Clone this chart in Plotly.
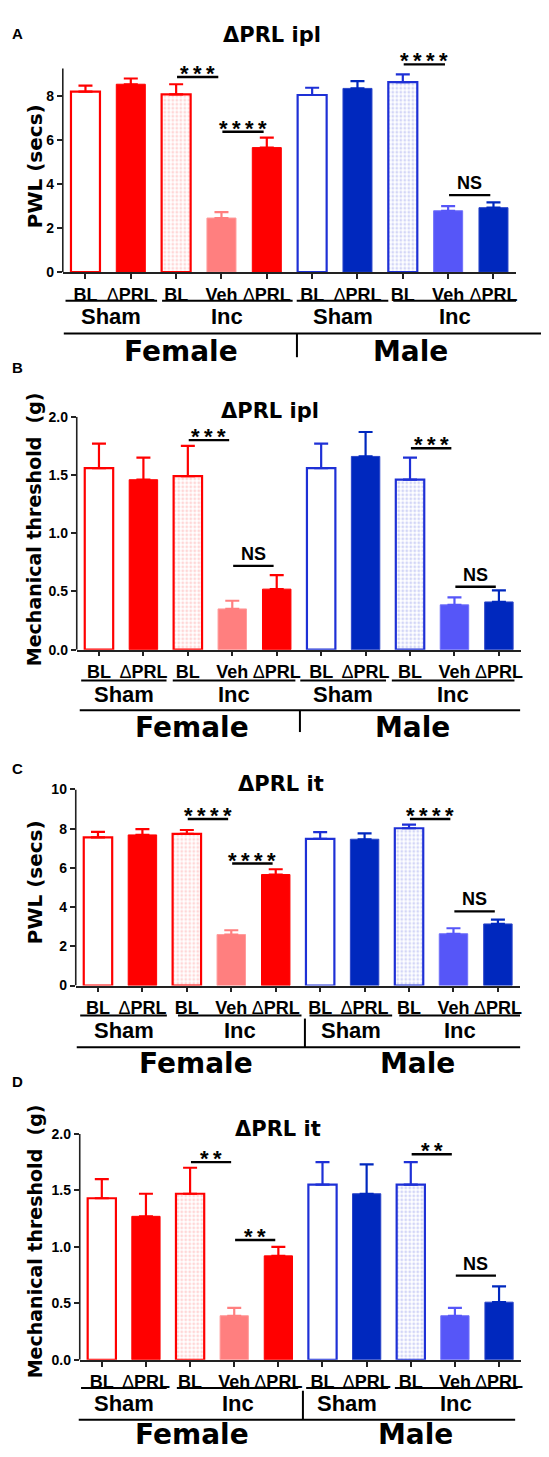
import plotly.graph_objects as go

W, H = 549, 1457
OFF = 8  # page body margin of the rendered html

# ---------------- data ----------------
tick_labels = ["BL", "ΔPRL", "BL", "Veh", "ΔPRL", "BL", "ΔPRL", "BL", "Veh", "ΔPRL"]
surgery_labels = ["Sham", "Inc", "Sham", "Inc"]
sex_labels = ["Female", "Male"]

# Panel A: ΔPRL ipl, PWL (secs)
a_mean = [8.20, 8.54, 8.08, 2.46, 5.66, 8.05, 8.35, 8.64, 2.79, 2.93]
a_sem = [0.28, 0.26, 0.46, 0.27, 0.45, 0.33, 0.33, 0.35, 0.21, 0.24]
a_sig = [(2, 3, 8.87, "***"), (3, 4, 6.38, "****"), (7, 8, 9.44, "****"), (8, 9, 3.50, "NS")]

# Panel B: ΔPRL ipl, Mechanical threshold (g)
b_mean = [1.56, 1.46, 1.49, 0.35, 0.52, 1.56, 1.66, 1.46, 0.385, 0.41]
b_sem = [0.21, 0.19, 0.26, 0.07, 0.12, 0.21, 0.21, 0.19, 0.065, 0.10]
b_sig = [(2, 3, 1.80, "***"), (3, 4, 0.72, "NS"), (7, 8, 1.73, "***"), (8, 9, 0.54, "NS")]

# Panel C: ΔPRL it, PWL (secs)
c_mean = [7.55, 7.68, 7.73, 2.60, 5.66, 7.48, 7.46, 8.02, 2.64, 3.14]
c_sem = [0.28, 0.29, 0.20, 0.22, 0.27, 0.34, 0.30, 0.18, 0.28, 0.22]
c_sig = [(2, 3, 8.49, "****"), (3, 4, 6.22, "****"), (7, 8, 8.49, "****"), (8, 9, 3.78, "NS")]

# Panel D: ΔPRL it, Mechanical threshold (g)
d_mean = [1.43, 1.27, 1.47, 0.39, 0.92, 1.55, 1.47, 1.55, 0.39, 0.51]
d_sem = [0.17, 0.20, 0.23, 0.07, 0.08, 0.20, 0.26, 0.20, 0.07, 0.14]
d_sig = [(2, 3, 1.75, "**"), (3, 4, 1.06, "**"), (7, 8, 1.82, "**"), (8, 9, 0.745, "NS")]

# ---------------- styles ----------------
RED = "#FF0000"
RED_L = "#FF7F7F"
BLUE_OUT = "#1E30D6"
BLUE = "#0028BE"
BLUE_L = "#5656F8"

bar_styles = [
    dict(fill="white", line=RED, lw=2.2, err=RED, dots=None),
    dict(fill=RED, line=RED, lw=1, err=RED, dots=None),
    dict(fill="white", line=RED, lw=2.2, err=RED, dots="#FFB0B0"),
    dict(fill=RED_L, line="#FF9C9C", lw=1, err=RED_L, dots=None),
    dict(fill=RED, line=RED, lw=1, err=RED, dots=None),
    dict(fill="white", line=BLUE_OUT, lw=2.2, err=BLUE_OUT, dots=None),
    dict(fill=BLUE, line="#2A44C8", lw=1, err=BLUE, dots=None),
    dict(fill="white", line=BLUE_OUT, lw=2.2, err=BLUE_OUT, dots="#A8AEF0"),
    dict(fill=BLUE_L, line="#7070FA", lw=1, err=BLUE_L, dots=None),
    dict(fill=BLUE, line="#2A44C8", lw=1, err=BLUE, dots=None),
]

BOLD_SANS = "DejaVu Sans"
ARIAL = "Liberation Sans, Arial"

panels = [
    dict(letter="A", letter_px=(18, 26), title="ΔPRL ipl", title_px=(273, 27),
         ytitle="PWL (secs)", ytitle_px=(35, 160), ytitle_size=20,
         mean=a_mean, sem=a_sem, sig=a_sig,
         x_px=(63, 518), y0_px=267, ppu=22.25, axis_top=9.25, range_top=9.9,
         tickvals=[0, 2, 4, 6, 8], tickformat="d",
         rows=dict(gline=296, gtext=312, bline=329, sex=347),
         glines=[(-0.44, 1.58), (1.69, 4.57), (4.66, 6.68), (6.79, 9.5)],
         bline_px=(64, 557), divider=(298, 329, 353), sex_x=(2.1, 7.16)),
    dict(letter="B", letter_px=(18, 363), title="ΔPRL ipl", title_px=(271, 407),
         ytitle="Mechanical threshold  (g)", ytitle_px=(34, 527), ytitle_size=19,
         mean=b_mean, sem=b_sem, sig=b_sig,
         x_px=(77, 523), y0_px=648.7, ppu=117.7, axis_top=2.0, range_top=2.0,
         tickvals=[0, 0.5, 1.0, 1.5, 2.0], tickformat=".1f",
         rows=dict(gline=680, gtext=694, bline=710, sex=727),
         glines=[(-0.40, 1.52), (1.66, 4.42), (4.53, 6.46), (6.59, 9.35)],
         bline_px=(80, 522), divider=(301, 710, 732), sex_x=(2.09, 7.06)),
    dict(letter="C", letter_px=(18, 769), title="ΔPRL it", title_px=(282, 785),
         ytitle="PWL (secs)", ytitle_px=(35, 884), ytitle_size=20,
         mean=c_mean, sem=c_sem, sig=c_sig,
         x_px=(76, 522), y0_px=988.3, ppu=19.83, axis_top=10, range_top=10,
         tickvals=[0, 2, 4, 6, 8, 10], tickformat="d",
         rows=dict(gline=1018.7, gtext=1034, bline=1050.7, sex=1067),
         glines=[(-0.40, 1.55), (1.80, 4.58), (4.76, 6.62), (6.78, 9.5)],
         bline_px=(77, 522), divider=(306, 1021.7, 1050.7), sex_x=(2.2, 7.18)),
    dict(letter="D", letter_px=(18, 1085), title="ΔPRL it", title_px=(279, 1133),
         ytitle="Mechanical threshold  (g)", ytitle_px=(35, 1247), ytitle_size=19,
         mean=d_mean, sem=d_sem, sig=d_sig,
         x_px=(80, 523), y0_px=1366.7, ppu=114.2, axis_top=2.0, range_top=2.0,
         tickvals=[0, 0.5, 1.0, 1.5, 2.0], tickformat=".1f",
         rows=dict(gline=1395.3, gtext=1411, bline=1427.3, sex=1442),
         glines=[(-0.47, 1.47), (1.70, 4.45), (4.63, 6.49), (6.64, 9.42)],
         bline_px=(79, 517), divider=(304, 1398, 1427.3), sex_x=(2.04, 7.1)),
]


def px_x(px):
    return (px - OFF) / W


def px_y(py):
    return 1 - (py - OFF) / H


def fmt_tick(lbl):
    if lbl.startswith("Δ"):
        return "Δ<b>" + lbl[1:] + "</b>"
    return "<b>" + lbl + "</b>"


fig = go.Figure()
shapes = []
annotations = []
layout_axes = {}

for k, p in enumerate(panels, start=1):
    xa = "x" if k == 1 else f"x{k}"
    ya = "y" if k == 1 else f"y{k}"
    xname = "xaxis" if k == 1 else f"xaxis{k}"
    yname = "yaxis" if k == 1 else f"yaxis{k}"

    # bars
    for i, (m, s) in enumerate(zip(p["mean"], p["sem"])):
        st = bar_styles[i]
        marker = dict(color=st["fill"], line=dict(color=st["line"], width=st["lw"]))
        if st["dots"]:
            marker["pattern"] = dict(shape=".", fgcolor=st["dots"], bgcolor="white",
                                     size=4, solidity=0.4)
        fig.add_trace(go.Bar(
            x=[i], y=[m], width=0.64, marker=marker, xaxis=xa, yaxis=ya,
            error_y=dict(type="data", symmetric=False, array=[s], arrayminus=[0],
                         color=st["err"], thickness=2.2, width=7),
            showlegend=False, hoverinfo="skip", cliponaxis=False,
        ))

    ytop_px = p["y0_px"] - p["range_top"] * p["ppu"]
    layout_axes[xname] = dict(
        domain=[px_x(p["x_px"][0]), px_x(p["x_px"][1])], anchor=ya,
        range=[-0.5, 9.5], tickvals=list(range(10)),
        ticktext=[fmt_tick(t) for t in tick_labels],
        tickfont=dict(family=ARIAL, size=18, color="black"),
        showline=True, linecolor="#222", linewidth=1.6,
        ticks="outside", ticklen=5, tickwidth=1.5, tickcolor="#222",
        showgrid=False, zeroline=False, fixedrange=True,
    )
    layout_axes[yname] = dict(
        domain=[px_y(p["y0_px"]), px_y(ytop_px)], anchor=xa,
        range=[0, p["range_top"]], tickvals=p["tickvals"], tickformat=p["tickformat"],
        tickfont=dict(family=ARIAL, size=14, color="black", weight="bold"),
        showline=False, ticks="outside", ticklen=5, tickwidth=1.5, tickcolor="#222",
        showgrid=False, zeroline=False, fixedrange=True,
    )
    # y axis line drawn up to axis_top
    shapes.append(dict(type="line", xref=f"{xa} domain", yref=ya, x0=0, x1=0,
                       y0=0, y1=p["axis_top"], line=dict(color="#222", width=1.6)))

    # significance bars
    for (i, j, yv, lab) in p["sig"]:
        x0, x1 = i + 0.02, j - 0.07
        shapes.append(dict(type="line", xref=xa, yref=ya, x0=x0, x1=x1, y0=yv, y1=yv,
                           line=dict(color="black", width=2.4)))
        if lab.startswith("*"):
            annotations.append(dict(xref=xa, yref=ya, x=(x0 + x1) / 2, y=yv,
                                    text="<b>" + "\u2009".join(lab) + "</b>",
                                    showarrow=False, yanchor="bottom", yshift=-11,
                                    font=dict(family=ARIAL, size=22, color="black")))
        else:
            annotations.append(dict(xref=xa, yref=ya, x=(x0 + x1) / 2, y=yv,
                                    text="<b>" + lab + "</b>",
                                    showarrow=False, yanchor="bottom", yshift=0,
                                    font=dict(family=ARIAL, size=18, color="black")))

    rows = p["rows"]
    # surgery group lines and labels
    for (gx0, gx1), lab in zip(p["glines"], surgery_labels):
        shapes.append(dict(type="line", xref=xa, yref="paper", x0=gx0, x1=gx1,
                           y0=px_y(rows["gline"]), y1=px_y(rows["gline"]),
                           line=dict(color="black", width=2)))
        annotations.append(dict(xref=xa, yref="paper", x=(gx0 + gx1) / 2,
                                y=px_y(rows["gtext"]), text="<b>" + lab + "</b>",
                                showarrow=False, yanchor="middle",
                                font=dict(family=ARIAL, size=22, color="black")))
    # sex line, divider and labels
    shapes.append(dict(type="line", xref="paper", yref="paper",
                       x0=px_x(p["bline_px"][0]), x1=px_x(p["bline_px"][1]),
                       y0=px_y(rows["bline"]), y1=px_y(rows["bline"]),
                       line=dict(color="black", width=2)))
    dx, dy0, dy1 = p["divider"]
    shapes.append(dict(type="line", xref="paper", yref="paper",
                       x0=px_x(dx), x1=px_x(dx), y0=px_y(dy0), y1=px_y(dy1),
                       line=dict(color="black", width=2)))
    for sx, lab in zip(p["sex_x"], sex_labels):
        annotations.append(dict(xref=xa, yref="paper", x=sx, y=px_y(rows["sex"]),
                                text="<b>" + lab + "</b>", showarrow=False,
                                yanchor="middle",
                                font=dict(family=BOLD_SANS, size=28, color="black")))

    # title, panel letter, y title
    annotations.append(dict(xref="paper", yref="paper", x=px_x(p["title_px"][0]),
                            y=px_y(p["title_px"][1]), text="<b>" + p["title"] + "</b>",
                            showarrow=False, xanchor="center", yanchor="middle",
                            font=dict(family=BOLD_SANS, size=21, color="black")))
    annotations.append(dict(xref="paper", yref="paper", x=px_x(p["letter_px"][0]),
                            y=px_y(p["letter_px"][1]), text="<b>" + p["letter"] + "</b>",
                            showarrow=False, xanchor="center", yanchor="middle",
                            font=dict(family=ARIAL, size=15, color="black")))
    annotations.append(dict(xref="paper", yref="paper", x=px_x(p["ytitle_px"][0]),
                            y=px_y(p["ytitle_px"][1]), text="<b>" + p["ytitle"] + "</b>",
                            showarrow=False, textangle=-90, xanchor="center",
                            yanchor="middle",
                            font=dict(family=BOLD_SANS, size=p["ytitle_size"],
                                      color="black")))

fig.update_layout(
    width=W, height=H, margin=dict(l=0, r=0, t=0, b=0),
    paper_bgcolor="white", plot_bgcolor="white",
    barmode="overlay", showlegend=False,
    shapes=shapes, annotations=annotations, **layout_axes,
)

fig.write_html("out.html")
